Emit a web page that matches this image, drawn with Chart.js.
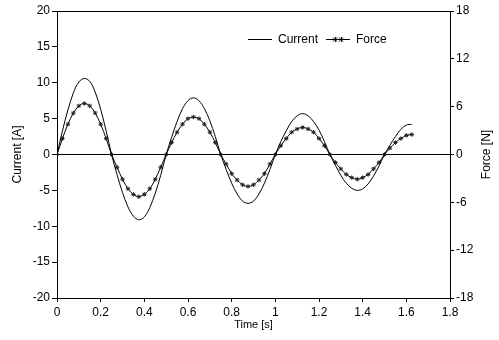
<!DOCTYPE html>
<html><head><meta charset="utf-8">
<script src="https://cdn.jsdelivr.net/npm/chart.js@4/dist/chart.umd.min.js"></script>
<style>html,body{margin:0;padding:0;background:#fff}#wrap{width:499px;height:340px}</style>
</head><body><div id="wrap"><canvas id="c" width="499" height="340"></canvas></div>
<script>
const times = [0,0.025,0.05,0.075,0.1,0.125,0.15,0.175,0.2,0.225,0.25,0.275,0.3,0.325,0.35,0.375,0.4,0.425,0.45,0.475,0.5,0.525,0.55,0.575,0.6,0.625,0.65,0.675,0.7,0.725,0.75,0.775,0.8,0.825,0.85,0.875,0.9,0.925,0.95,0.975,1,1.025,1.05,1.075,1.1,1.125,1.15,1.175,1.2,1.225,1.25,1.275,1.3,1.325,1.35,1.375,1.4,1.425,1.45,1.475,1.5,1.525,1.55,1.575,1.6,1.625];
const current = [0,3.3,6.2,8.6,10.1,10.6,10.2,8.7,6.3,3.3,0,-2.8,-5.3,-7.3,-8.6,-9.1,-8.7,-7.4,-5.4,-2.9,0,2.4,4.6,6.4,7.5,7.9,7.5,6.4,4.7,2.5,0,-2.1,-4.0,-5.5,-6.5,-6.8,-6.5,-5.5,-4.0,-2.1,0,1.8,3.3,4.6,5.4,5.7,5.4,4.6,3.4,1.8,0,-1.5,-2.9,-4.0,-4.7,-5.0,-4.8,-4.1,-3.0,-1.6,0,1.3,2.5,3.5,4.1,4.2];
const force = [0,2.0,3.8,5.2,6.1,6.4,6.1,5.2,3.8,2.0,0,-1.6,-3.1,-4.3,-5.0,-5.3,-5.0,-4.3,-3.1,-1.6,0,1.5,2.8,3.8,4.5,4.7,4.5,3.8,2.8,1.5,0,-1.2,-2.4,-3.2,-3.8,-4.0,-3.8,-3.2,-2.4,-1.2,0,1.1,2.0,2.8,3.2,3.4,3.2,2.8,2.0,1.1,0,-1.0,-1.8,-2.5,-2.9,-3.1,-2.9,-2.5,-1.8,-1.0,0,0.8,1.5,2.0,2.4,2.5];
const seriesNames = ['Current', 'Force'];
const xTicks = [0,0.2,0.4,0.6,0.8,1,1.2,1.4,1.6,1.8];
const yLeftTicks = [-20,-15,-10,-5,0,5,10,15,20];
const yRightTicks = [-18,-12,-6,0,6,12,18];
const xTitle = 'Time [s]';
const yLeftTitle = 'Current [A]';
const yRightTitle = 'Force [N]';

Chart.defaults.font.family = '"Liberation Sans", Arial, Helvetica, sans-serif';
Chart.defaults.font.size = 12;
Chart.defaults.color = '#000';

function makeSample(withStar) {
  const c = document.createElement('canvas');
  c.width = 24; c.height = 8;
  const g = c.getContext('2d');
  g.strokeStyle = '#000'; g.lineWidth = 1;
  g.beginPath(); g.moveTo(0, 3.5); g.lineTo(24, 3.5); g.stroke();
  if (withStar) {
    g.beginPath();
    for (const cx of [9, 15]) {
      g.moveTo(cx - 2, 1.5); g.lineTo(cx + 2, 5.5);
      g.moveTo(cx + 2, 1.5); g.lineTo(cx - 2, 5.5);
      g.moveTo(cx + 0.5, 1); g.lineTo(cx + 0.5, 6);
    }
    g.stroke();
  }
  return c;
}
const samples = [makeSample(false), makeSample(true)];

const legendMover = {
  id: 'legendMover',
  beforeLayout(chart) {
    const lg = chart.legend;
    if (lg && !lg._patched) {
      const orig = lg.fit;
      lg.fit = function () { orig.call(this); this._realH = this.height; this.height = 0; };
      lg._patched = true;
    }
  },
  afterLayout(chart) {
    const lg = chart.legend;
    if (!lg) return;
    lg.left = 240; lg.right = 499; lg.width = 259;
    lg.top = 26; lg.height = lg._realH || 30; lg.bottom = lg.top + lg.height;
  }
};

// Right-axis title reads bottom-to-top, like the left one
const rightTitle = {
  id: 'rightTitle',
  afterDraw(chart) {
    const s = chart.scales.y2;
    const ctx = chart.ctx;
    ctx.save();
    ctx.translate(487, (s.top + s.bottom) / 2);
    ctx.rotate(-Math.PI / 2);
    ctx.fillStyle = '#000';
    ctx.font = '12px "Liberation Sans", Arial, Helvetica, sans-serif';
    ctx.textAlign = 'center';
    ctx.textBaseline = 'middle';
    ctx.fillText(yRightTitle, 0, 0);
    ctx.restore();
  }
};

const tickSetter = arr => s => { s.ticks = arr.map(v => ({ value: v })); };

new Chart(document.getElementById('c'), {
  type: 'line',
  data: {
    datasets: [
      {
        label: seriesNames[0],
        data: times.map((t, i) => ({ x: t, y: current[i] })),
        yAxisID: 'y', xAxisID: 'x',
        borderColor: '#000', borderWidth: 1, pointRadius: 0, tension: 0.35, fill: false
      },
      {
        label: seriesNames[1],
        data: times.map((t, i) => ({ x: t, y: force[i] })),
        yAxisID: 'y2', xAxisID: 'x',
        borderColor: '#000', borderWidth: 1, tension: 0.35, fill: false,
        pointStyle: 'star', pointRadius: 2.2, pointBorderWidth: 1,
        pointBorderColor: '#222', pointBackgroundColor: '#222'
      }
    ]
  },
  options: {
    responsive: false, animation: false, devicePixelRatio: 1,
    layout: { padding: 0 },
    plugins: {
      tooltip: { enabled: false },
      legend: {
        display: true, position: 'top', align: 'start',
        labels: {
          usePointStyle: true, pointStyleWidth: 24, padding: 8,
          color: '#000', font: { size: 12 },
          generateLabels(chart) {
            const items = Chart.defaults.plugins.legend.labels.generateLabels(chart);
            items.forEach((it, i) => { it.pointStyle = samples[i]; it.lineWidth = 0; });
            return items;
          }
        }
      }
    },
    scales: {
      x: {
        type: 'linear', position: 'bottom', min: 0, max: 1.8,
        afterBuildTicks: tickSetter(xTicks),
        afterFit: s => { s.height = 42; },
        ticks: { callback: v => String(v), padding: 3, maxRotation: 0, autoSkip: false, font: { size: 12 } },
        grid: { drawOnChartArea: false, tickLength: 4, tickColor: '#000' },
        border: { display: true, color: '#000', width: 1 },
        title: { display: true, text: xTitle, font: { size: 11 }, padding: { top: 0, bottom: 8 } }
      },
      x2: {
        type: 'linear', position: 'top', min: 0, max: 1.8,
        afterFit: s => { s.height = 11; },
        ticks: { display: false },
        grid: { display: false, drawTicks: false },
        border: { display: true, color: '#000', width: 1 }
      },
      y: {
        type: 'linear', position: 'left', min: -20, max: 20,
        afterBuildTicks: tickSetter(yLeftTicks),
        afterFit: s => { s.width = 57; },
        ticks: { callback: v => String(v), padding: 2, font: { size: 12 } },
        grid: {
          drawOnChartArea: true, tickLength: 5, tickColor: '#000', lineWidth: 1,
          color: ctx => (ctx.tick && ctx.tick.value === 0) ? '#000' : 'rgba(0,0,0,0)'
        },
        border: { display: true, color: '#000', width: 1 },
        title: { display: true, text: yLeftTitle, font: { size: 12 }, padding: { top: 10, bottom: 0 } }
      },
      y2: {
        type: 'linear', position: 'right', min: -18, max: 18,
        afterBuildTicks: tickSetter(yRightTicks),
        afterFit: s => { s.width = 49; },
        ticks: { callback: v => String(v), padding: 2, font: { size: 12 } },
        grid: { drawOnChartArea: false, tickLength: 4, tickColor: '#000' },
        border: { display: true, color: '#000', width: 1 },
        title: { display: false, text: yRightTitle }
      }
    }
  },
  plugins: [legendMover, rightTitle]
});
</script>
</body></html>
